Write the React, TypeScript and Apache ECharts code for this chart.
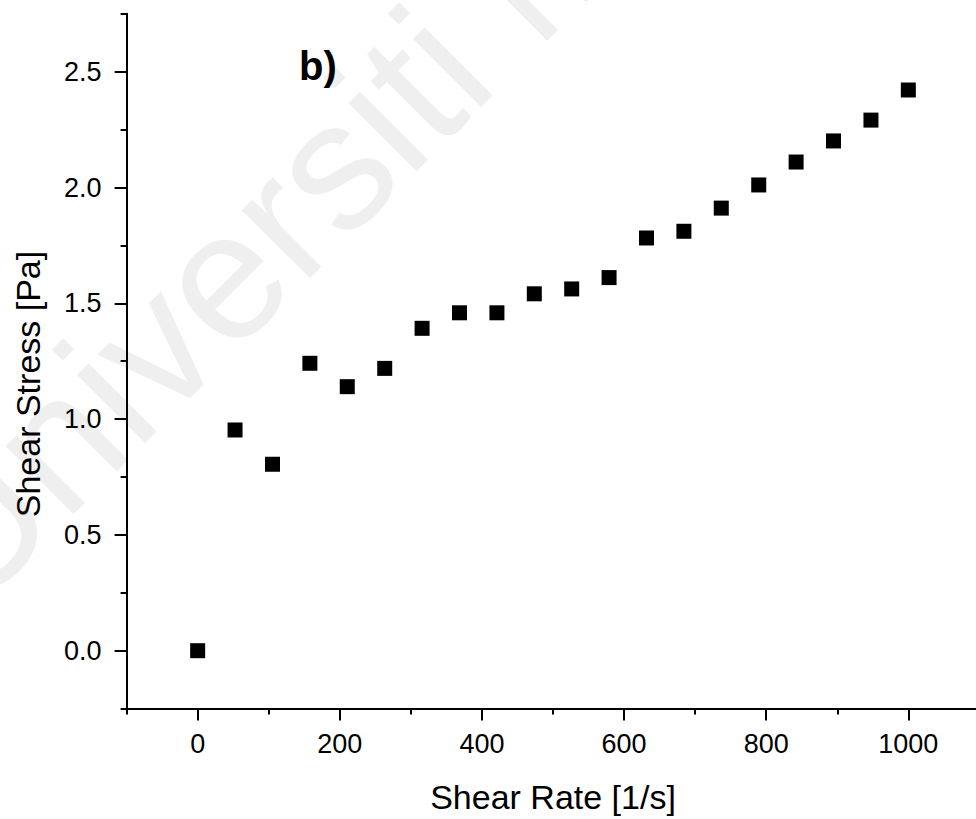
import React, { useEffect, useRef } from "react";
import * as echarts from "echarts";

// Data
const shearRate = [0, 52.6, 105.3, 157.9, 210.5, 263.2, 315.8, 368.4, 421.1, 473.7, 526.3, 578.9, 631.6, 684.2, 736.8, 789.5, 842.1, 894.7, 947.4, 1000];
const shearStress = [0, 0.953, 0.805, 1.241, 1.14, 1.219, 1.392, 1.459, 1.459, 1.541, 1.562, 1.611, 1.782, 1.811, 1.911, 2.011, 2.11, 2.201, 2.291, 2.421];

const xTitle = "Shear Rate [1/s]";
const yTitle = "Shear Stress [Pa]";
const panelLabel = "b)";
const watermark = "Universiti Malaya";

const FONT = '"Liberation Sans", Arial, Helvetica, sans-serif';

export default function App() {
  const ref = useRef<HTMLDivElement>(null);

  useEffect(() => {
    const el = ref.current;
    if (!el) return;
    const chart = echarts.init(el, null, { renderer: "svg" });
    const data = shearRate.map((x, i) => [x, shearStress[i]]);
    const line = { color: "#000", width: 2 };
    const labelStyle = { color: "#000", fontSize: 27, fontFamily: FONT };

    chart.setOption({
      animation: false,
      backgroundColor: "#fff",
      grid: [
        { left: 126.6, right: 0.6, top: 13.8, bottom: 110.4 },
        { left: 126.6, right: 0.6, top: 71.7, bottom: 168.3 },
        { left: 197.7, right: 71.7, top: 13.8, bottom: 110.4 },
      ],
      xAxis: [
        {
          gridIndex: 0, type: "value", min: -100, max: 1100, interval: 100,
          axisLine: { show: true, onZero: false, lineStyle: line },
          axisTick: { show: true, length: 6, lineStyle: line },
          axisLabel: { show: false },
          splitLine: { show: false },
        },
        { gridIndex: 1, type: "value", min: -100, max: 1100, show: false, axisLine: { onZero: false } },
        {
          gridIndex: 2, type: "value", min: 0, max: 1000, interval: 200,
          axisLine: { show: false, onZero: false },
          axisTick: { show: true, length: 12, lineStyle: line },
          axisLabel: { ...labelStyle, margin: 22, formatter: (v: number) => String(v) },
          splitLine: { show: false },
          name: xTitle, nameLocation: "middle", nameGap: 71,
          nameTextStyle: { color: "#000", fontSize: 34, fontFamily: FONT },
        },
      ],
      yAxis: [
        {
          gridIndex: 0, type: "value", min: -0.25, max: 2.75, interval: 0.25,
          axisLine: { show: true, onZero: false, lineStyle: line },
          axisTick: { show: true, length: 6, lineStyle: line },
          axisLabel: { show: false },
          splitLine: { show: false },
        },
        {
          gridIndex: 1, type: "value", min: 0, max: 2.5, interval: 0.5,
          axisLine: { show: false, onZero: false },
          axisTick: { show: true, length: 12, lineStyle: line },
          axisLabel: { ...labelStyle, margin: 25, formatter: (v: number) => v.toFixed(1) },
          splitLine: { show: false },
        },
        { gridIndex: 2, type: "value", min: -0.25, max: 2.75, show: false, axisLine: { onZero: false } },
      ],
      graphic: [
        {
          type: "text", z: -10, x: -72.6, y: 571.4, rotation: Math.PI / 4, silent: true,
          style: { text: watermark, fill: "#efefef", fontSize: 182, fontFamily: FONT, align: "left", verticalAlign: "middle" },
        },
        {
          type: "text", x: 299, y: 66,
          style: { text: panelLabel, fill: "#000", fontSize: 40, fontWeight: "bold", fontFamily: FONT, align: "left", verticalAlign: "middle" },
        },
        {
          type: "text", x: 27.5, y: 384, rotation: Math.PI / 2,
          style: { text: yTitle, fill: "#000", fontSize: 34, fontFamily: FONT, align: "center", verticalAlign: "middle" },
        },
      ],
      series: [
        {
          type: "scatter", xAxisIndex: 0, yAxisIndex: 0,
          symbol: "rect", symbolSize: 15,
          itemStyle: { color: "#000", opacity: 1 },
          data,
        },
      ],
    });

    return () => chart.dispose();
  }, []);

  return (
    <div style={{ position: "fixed", left: 0, top: 0, width: 976, height: 819, overflow: "hidden", background: "#fff" }}>
      <div ref={ref} style={{ width: 980, height: 819 }} />
    </div>
  );
}
